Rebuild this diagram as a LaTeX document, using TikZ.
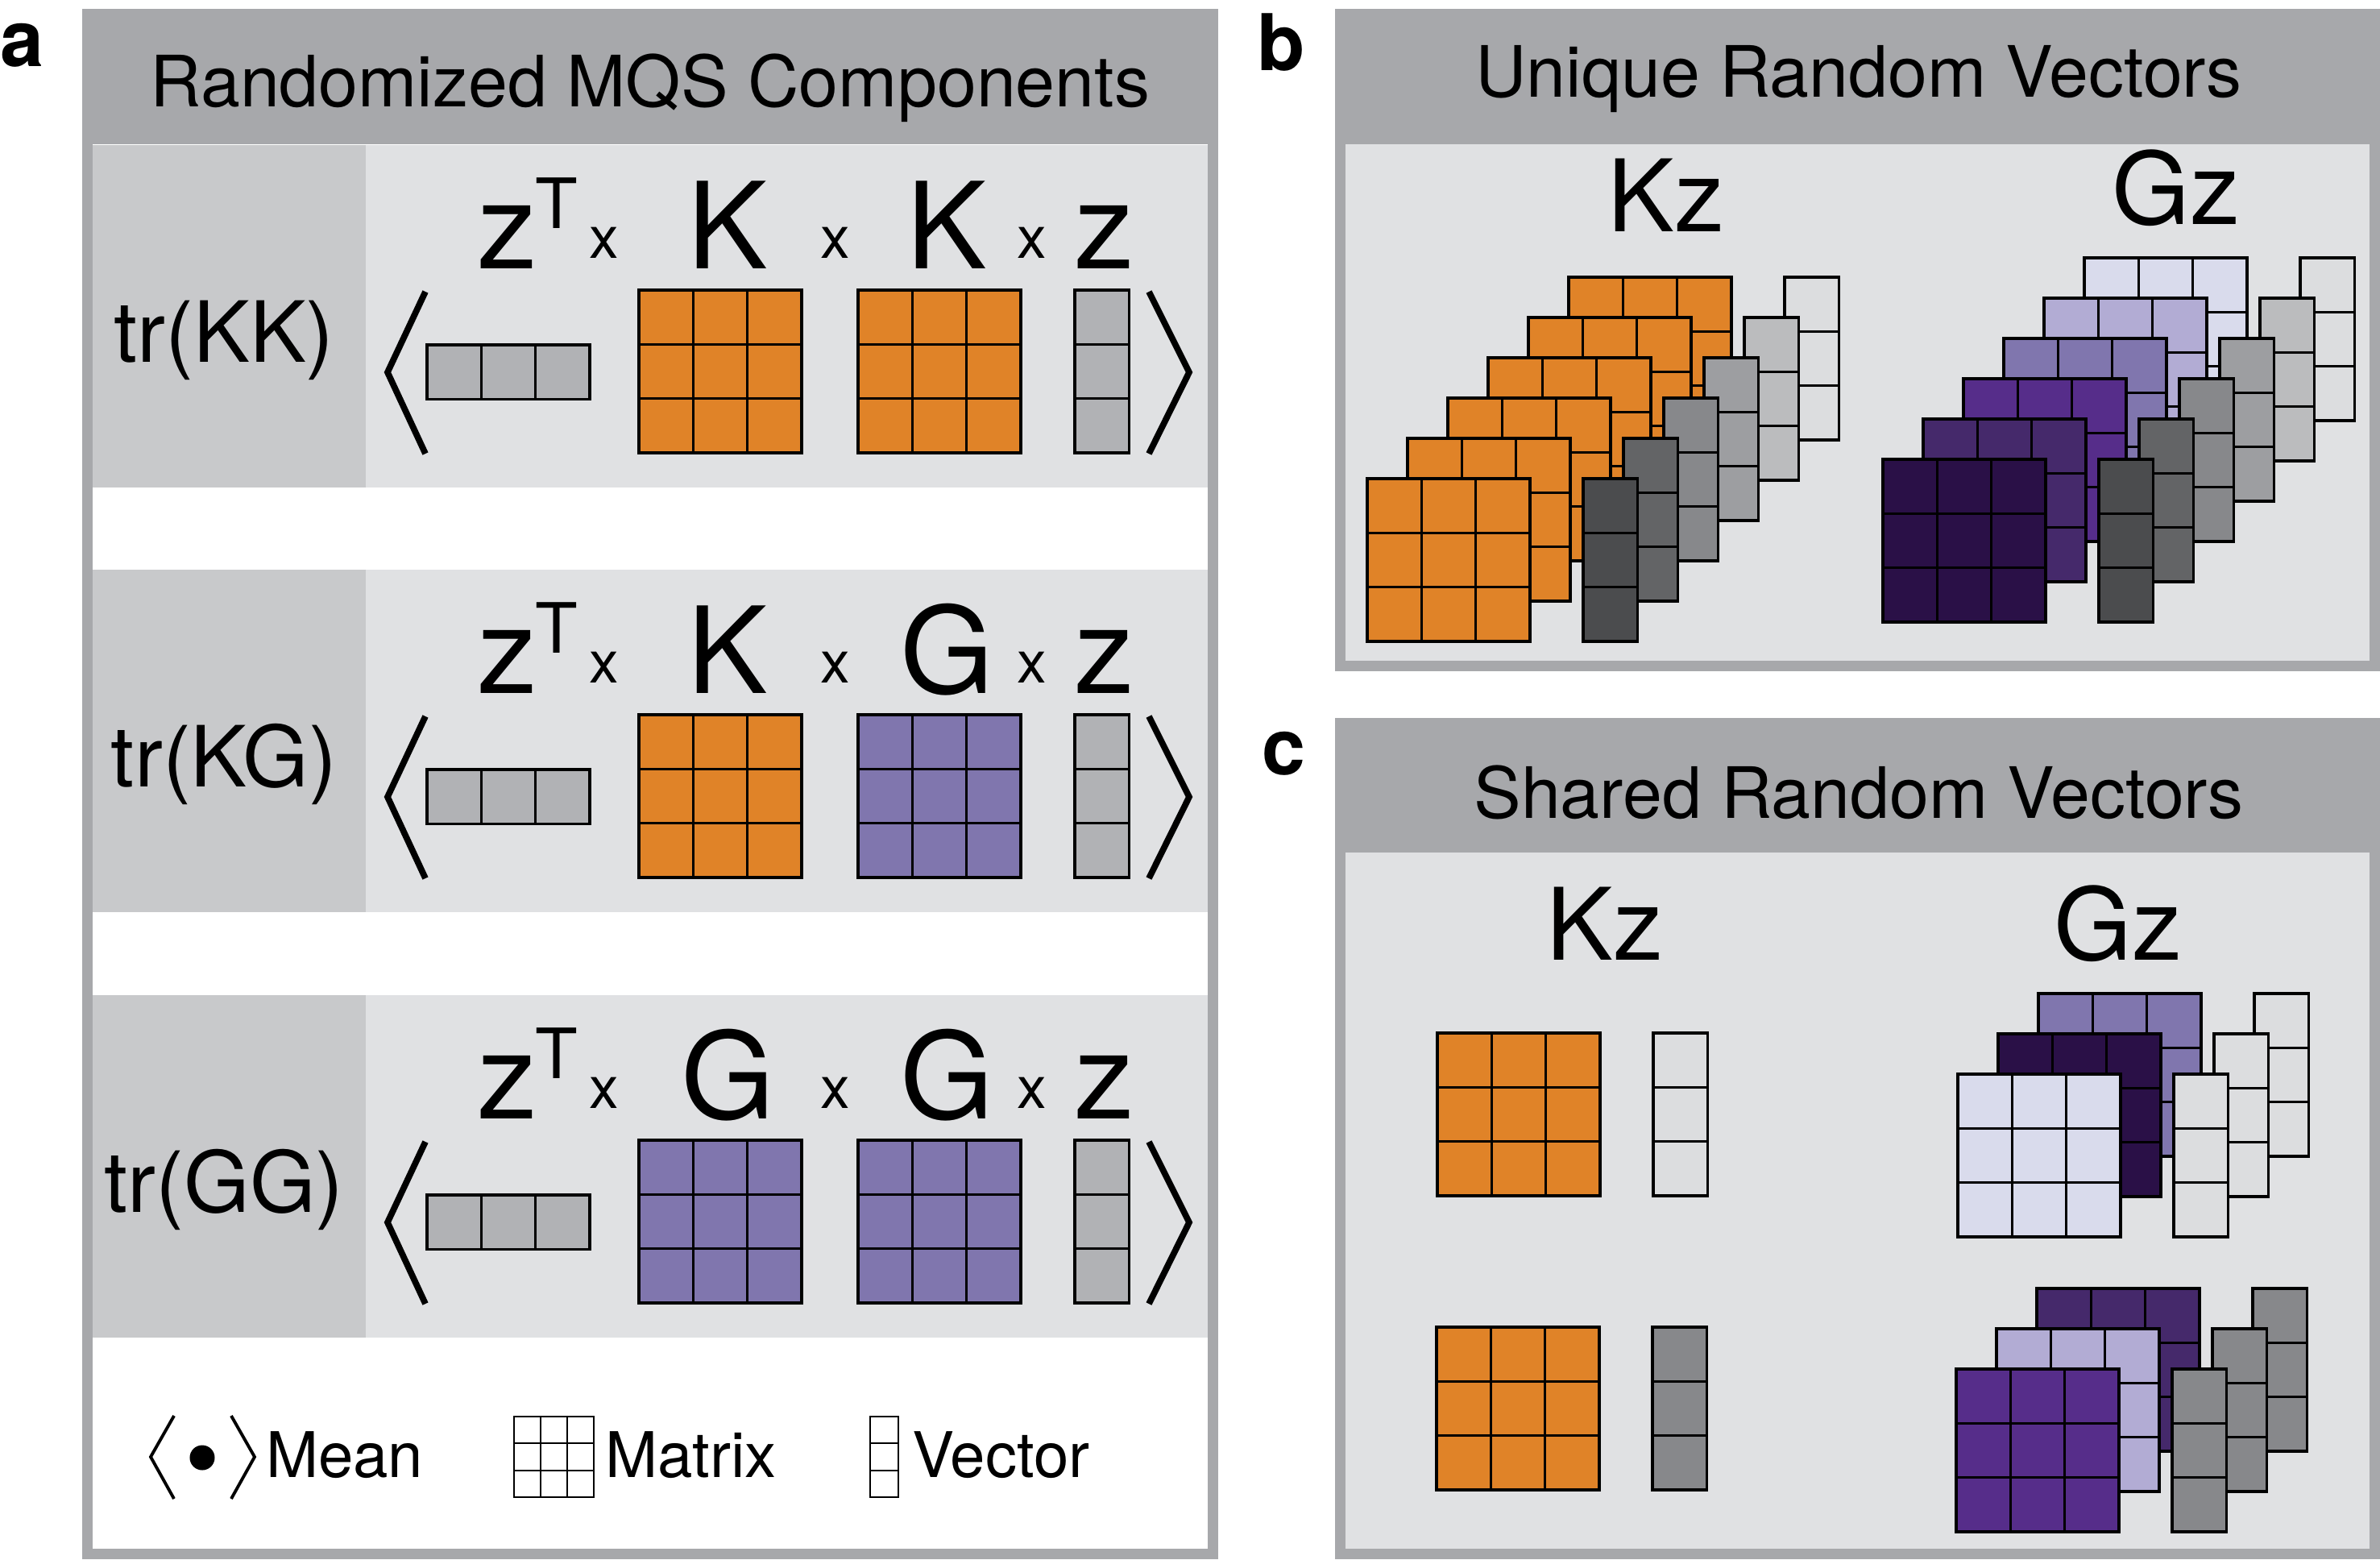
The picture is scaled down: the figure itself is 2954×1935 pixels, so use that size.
\documentclass[tikz,border=0pt]{standalone}
\usepackage{fontspec}
\setmainfont{TeX Gyre Heros}
\usetikzlibrary{calc}
\definecolor{hdr}{HTML}{A7A8AB}
\definecolor{lblbg}{HTML}{C8C9CB}
\definecolor{cellbg}{HTML}{E0E1E3}
\definecolor{orng}{HTML}{E08328}
\definecolor{pmed}{HTML}{8076AE}
\definecolor{plight}{HTML}{D9DBEC}
\definecolor{plav}{HTML}{B2ACD4}
\definecolor{pvio}{HTML}{562D8A}
\definecolor{pdark}{HTML}{45296B}
\definecolor{pdeep}{HTML}{2A1047}
\definecolor{vecg}{HTML}{B1B2B5}
\definecolor{ga}{HTML}{4B4C4E}
\definecolor{gb}{HTML}{636466}
\definecolor{gc}{HTML}{87888B}
\definecolor{gd}{HTML}{9D9EA1}
\definecolor{ge}{HTML}{BBBCBE}
\definecolor{gf}{HTML}{DCDDDF}
\newcommand\fs[1]{\fontsize{#1pt}{#1pt}\selectfont}
\tikzset{
  cell/.style={draw=black, line width=0.9pt, line join=miter},
  brk/.style={line width=2.2pt, line join=miter},
  legbrk/.style={line width=1.1pt, line join=miter},
  txt/.style={anchor=base, inner sep=0pt, outer sep=0pt},
  big/.style={txt, font=\fs{42.4}},
  supT/.style={txt, font=\fs{24.5}},
  sx/.style={txt, font=\fs{20.8}},
  trl/.style={txt, font=\fs{29.8}},
  ttl/.style={txt, font=\fs{25}},
  kzl/.style={txt, font=\fs{35.3}},
  leg/.style={txt, anchor=base west, font=\fs{22.2}},
  plab/.style={txt, anchor=base west, font=\fs{27.6}\bfseries},
}
% matrix 3x3, top-left (x,y), colour
\newcommand\mymtx[3]{%
  \filldraw[fill=#3, cell] (#1,#2) rectangle +(202,202);
  \draw[cell] (#1,#2) +(67.33,0) -- +(67.33,202) +(134.67,0) -- +(134.67,202)
     +(0,67.33) -- +(202,67.33) +(0,134.67) -- +(202,134.67);}
\newcommand\mycvec[3]{%
  \filldraw[fill=#3, cell] (#1,#2) rectangle +(67.33,202);
  \draw[cell] (#1,#2) +(0,67.33) -- +(67.33,67.33) +(0,134.67) -- +(67.33,134.67);}
\newcommand\myrvec[3]{%
  \filldraw[fill=#3, cell] (#1,#2) rectangle +(202,67.33);
  \draw[cell] (#1,#2) +(67.33,0) -- +(67.33,67.33) +(134.67,0) -- +(134.67,67.33);}
% row: #1 top, #2 label, #3 letter2, #4 letter3, #5 colour2, #6 colour3, #7 prefix
\newcommand\myrow[7]{%
  \fill[lblbg] (115,#1) rectangle (454,#1+425);
  \fill[cellbg] (454,#1) rectangle (1499,#1+425);
  \node[trl] (#7tr) at (278,#1+269) {#2};
  \node[big] (#7z) at (630,#1+153) {z};
  \node[supT] (#7T) at (691,#1+103) {T};
  \node[sx] (#7xa) at (750,#1+140) {x};
  \node[big] (#7A) at (903,#1+153) {#3};
  \node[sx] (#7xb) at (1037,#1+140) {x};
  \node[big] (#7B) at (1175,#1+153) {#4};
  \node[sx] (#7xc) at (1281,#1+140) {x};
  \node[big] (#7zz) at (1371,#1+153) {z};
  \draw[brk] (528,#1+182) -- (481,#1+282) -- (528,#1+383);
  \draw[brk] (1426,#1+182) -- (1476,#1+282) -- (1426,#1+383);
  \myrvec{530}{#1+248}{vecg}
  \mymtx{793}{#1+180}{#5}
  \mymtx{1065}{#1+180}{#6}
  \mycvec{1334}{#1+180}{vecg}}
\begin{document}
\begin{tikzpicture}[x=0.01cm, y=-0.01cm]
\useasboundingbox (0,0) rectangle (2954,1935);
\fill[white] (0,0) rectangle (2954,1935);
% ---------- panel a ----------
\fill[hdr] (102,11) rectangle (1512,1935);
\fill[white] (115,179) rectangle (1499,1922);
\node[ttl] (ta) at (807,132) {Randomized MQS Components};
\node[plab] (la) at (0,82) {a};
\myrow{180}{tr(KK)}{K}{K}{orng}{orng}{ra}
\myrow{707}{tr(KG)}{K}{G}{orng}{pmed}{rb}
\myrow{1235}{tr(GG)}{G}{G}{pmed}{pmed}{rc}
% legend
\draw[legbrk] (216,1757) -- (187,1808) -- (216,1860);
\draw[legbrk] (287,1757) -- (316,1808) -- (287,1860);
\fill[black] (251,1809) circle[radius=0.155cm];
\node[leg] (lmean) at (330,1833) {Mean};
\filldraw[fill=white, draw=black, line width=0.7pt] (638,1758) rectangle (737,1858);
\draw[line width=0.7pt] (671,1758) -- (671,1858) (704,1758) -- (704,1858)
   (638,1791) -- (737,1791) (638,1825) -- (737,1825);
\node[leg] (lmatrix) at (751,1833) {Matrix};
\filldraw[fill=white, draw=black, line width=0.7pt] (1080,1758) rectangle (1115,1858);
\draw[line width=0.7pt] (1080,1791) -- (1115,1791) (1080,1825) -- (1115,1825);
\node[leg] (lvector) at (1132,1833) {Vector};
% ---------- panel b ----------
\fill[hdr] (1657,11) rectangle (2954,833);
\fill[cellbg] (1670,179) rectangle (2941,820);
\node[ttl] (tb) at (2307,120) {Unique Random Vectors};
\node[plab] (lb) at (1560,87) {b};
\node[kzl] (bKz) at (2068,287) {Kz};
\node[kzl] (bGz) at (2701,278) {Gz};
\foreach \k/\vc in {5/gf,4/ge,3/gd,2/gc,1/gb,0/ga}{
  \mymtx{1697+50*\k}{594-50*\k}{orng}
  \mycvec{1965+50*\k}{594-50*\k}{\vc}
}
\foreach \k/\mc/\vc in {5/plight/gf,4/plav/ge,3/pmed/gd,2/pvio/gc,1/pdark/gb,0/pdeep/ga}{
  \mymtx{2337+50*\k}{570-50*\k}{\mc}
  \mycvec{2605+50*\k}{570-50*\k}{\vc}
}
% ---------- panel c ----------
\fill[hdr] (1657,891) rectangle (2954,1935);
\fill[cellbg] (1670,1058) rectangle (2941,1922);
\node[ttl] (tc) at (2307,1015) {Shared Random Vectors};
\node[plab] (lc) at (1566,961) {c};
\node[kzl] (cKz) at (1992,1191) {Kz};
\node[kzl] (cGz) at (2629,1191) {Gz};
\mymtx{1784}{1282}{orng}
\mycvec{2052}{1282}{gf}
\mymtx{1783}{1647}{orng}
\mycvec{2051}{1647}{gc}
\foreach \k/\mc in {2/pmed,1/pdeep,0/plight}{
  \mymtx{2430+50*\k}{1333-50*\k}{\mc}
  \mycvec{2698+50*\k}{1333-50*\k}{gf}
}
\foreach \k/\mc in {2/pdark,1/plav,0/pvio}{
  \mymtx{2428+50*\k}{1699-50*\k}{\mc}
  \mycvec{2696+50*\k}{1699-50*\k}{gc}
}
\end{tikzpicture}
\end{document}
